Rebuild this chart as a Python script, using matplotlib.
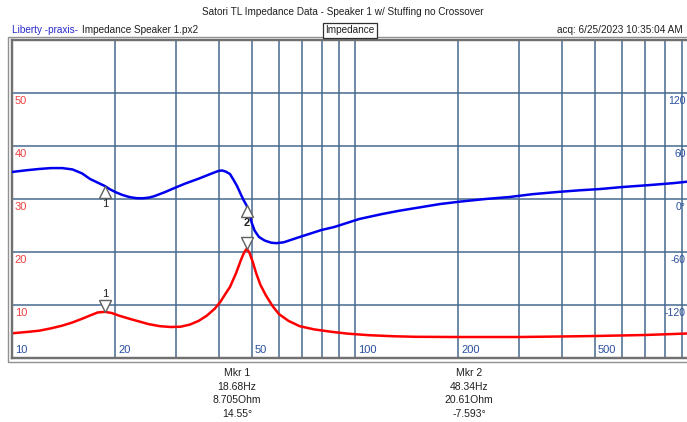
import matplotlib
matplotlib.use("Agg")
import matplotlib.pyplot as plt
import matplotlib.transforms as mtransforms
from matplotlib.patches import Rectangle

plt.rcParams['font.family'] = ['Liberation Sans', 'DejaVu Sans']

# ---- data ----
imp_freq = [10, 11, 12, 13, 14, 15, 16, 17, 17.8, 18.68, 19.5, 20.5, 22, 23.6,
            25, 27, 29, 31, 33, 35, 37, 39, 40.5, 42, 43.2, 45, 46.5, 47.5,
            48.34, 49.2, 50.3, 51.5, 53, 55, 57.5, 60, 64, 69, 76, 85, 95, 110,
            130, 150, 200, 300, 400, 500, 700, 930, 1000]
imp_ohm = [4.66, 4.9, 5.15, 5.6, 6.1, 6.7, 7.4, 8.1, 8.6, 8.705, 8.5, 8.0, 7.4,
           6.85, 6.4, 6.0, 5.85, 5.9, 6.3, 7.0, 8.0, 9.3, 10.6, 12.2, 13.4,
           16.0, 18.5, 19.9, 20.61, 19.9, 18.2, 16.0, 13.8, 11.8, 9.8, 8.3,
           7.0, 6.0, 5.4, 4.96, 4.6, 4.3, 4.1, 4.0, 3.96, 3.96, 4.06, 4.15,
           4.34, 4.62, 4.7]

ph_freq = [10, 11, 12, 13, 14, 15, 16, 16.9, 18.68, 19.3, 20, 21, 22, 23, 24,
           25, 26, 28, 30, 32, 35, 38, 40, 41, 42, 43.2, 44.2, 45.3, 46.5,
           47.3, 48.34, 49.2, 50, 51, 52.5, 54.5, 57, 59, 62, 69, 80, 87, 103,
           120, 135, 160, 177, 202, 240, 283, 330, 388, 450, 518, 600, 724,
           850, 930, 1000]
ph_deg = [30.6, 32.5, 34.0, 35.0, 35.0, 33.5, 29.0, 22.6, 14.55, 11.0, 7.9,
          4.5, 2.2, 1.0, 0.8, 1.5, 3.2, 8.0, 13.0, 17.5, 23.0, 28.5, 31.8,
          32.3, 31.0, 28.3, 22.0, 14.7, 5.0, -1.0, -7.593, -16.0, -27.0, -36.0,
          -43.0, -47.0, -49.5, -50.0, -49.0, -43.0, -35.0, -31.7, -22.6, -17.0,
          -13.2, -8.5, -5.7, -3.0, 0.0, 2.3, 5.5, 7.9, 9.8, 11.3, 13.5, 15.8,
          18.0, 19.6, 20.5]

x_tick_vals = [10, 20, 50, 100, 200, 500]
imp_tick_vals = [10, 20, 30, 40, 50]
ph_tick_vals = [120, 60, 0, -60, -120]
ph_tick_labels = ["120", "60", "0\u00b0", "-60", "-120"]

markers_freq = [18.68, 48.34]
markers_imp = [8.705, 20.61]
markers_ph = [14.55, -7.593]
marker_text = [["Mkr 1", "18.68Hz", "8.705Ohm", "14.55\u00b0"],
               ["Mkr 2", "48.34Hz", "20.61Ohm", "-7.593\u00b0"]]

# ---- figure ----
W, H = 687, 422
fig = plt.figure(figsize=(W / 100, H / 100), dpi=100)
fig.patch.set_facecolor("white")

left_px, right_px, top_px, bot_px = 12, 698, 40, 358
ax = fig.add_axes([left_px / W, 1 - bot_px / H, (right_px - left_px) / W,
                   (bot_px - top_px) / H])
ax.set_xscale("log")
ax.set_xlim(10, 1000)
ax.set_ylim(0, 60)
ax2 = ax.twinx()
ax2.set_ylim(-180, 180)

grid_c = "#46698f"
vlines = list(range(20, 100, 10)) + list(range(100, 1000, 100))
for v in vlines:
    ax.axvline(v, color=grid_c, lw=1.1, zorder=1)
for h in imp_tick_vals:
    ax.axhline(h, color=grid_c, lw=1.1, zorder=1)

for a in (ax, ax2):
    a.set_xticks([])
    a.set_yticks([])
    a.xaxis.set_minor_locator(matplotlib.ticker.NullLocator())
    a.yaxis.set_minor_locator(matplotlib.ticker.NullLocator())
    for s in a.spines.values():
        s.set_color("#707070")
        s.set_linewidth(1.6)

ax.plot(imp_freq, imp_ohm, color="#ff0000", lw=1.8, zorder=3)
ax2.plot(ph_freq, ph_deg, color="#0000ee", lw=1.8, zorder=3)

# tick labels
off = mtransforms.ScaledTranslation(2 / 72, -2 / 72, fig.dpi_scale_trans)
for h in imp_tick_vals:
    ax.text(0, h, str(h), transform=ax.get_yaxis_transform() + off,
            ha="left", va="top", color="#f04040", fontsize=8)
for x in x_tick_vals:
    ax.text(x, 0, str(x), transform=ax.get_xaxis_transform() +
            mtransforms.ScaledTranslation(2 / 72, 2 / 72, fig.dpi_scale_trans),
            ha="left", va="bottom", color="#2a4f9f", fontsize=8)
tr = mtransforms.blended_transform_factory(fig.transFigure, ax2.transData)
for v, lab in zip(ph_tick_vals, ph_tick_labels):
    ax2.text(683 / W, v, lab, transform=tr + off, ha="right", va="top",
             color="#2a4f9f", fontsize=7.5, clip_on=False, zorder=6,
             bbox=dict(boxstyle="square,pad=0", fc="none", ec="none"))

# markers
tri_kw = dict(markersize=8, markerfacecolor="white", markeredgecolor="#606060",
              markeredgewidth=1, linestyle="none", zorder=5)
up_off = mtransforms.ScaledTranslation(0, -4 / 72, fig.dpi_scale_trans)
dn_off = mtransforms.ScaledTranslation(0, 4 / 72, fig.dpi_scale_trans)
for i, (f, z, p) in enumerate(zip(markers_freq, markers_imp, markers_ph)):
    ax2.plot([f], [p], marker="^", transform=ax2.transData + up_off, **tri_kw)
    ax.plot([f], [z], marker="v", transform=ax.transData + dn_off, **tri_kw)
    if i == 0:
        ax2.text(f, p, "1", transform=ax2.transData +
                 mtransforms.ScaledTranslation(0, -9 / 72, fig.dpi_scale_trans),
                 ha="center", va="top", fontsize=8, color="#202020", zorder=6)
        ax.text(f, z, "1", transform=ax.transData +
                mtransforms.ScaledTranslation(0, 9 / 72, fig.dpi_scale_trans),
                ha="center", va="bottom", fontsize=8, color="#202020", zorder=6)
    else:
        ax2.text(f, p, "2", transform=ax2.transData +
                 mtransforms.ScaledTranslation(0, -9 / 72, fig.dpi_scale_trans),
                 ha="center", va="top", fontsize=8, fontweight="bold",
                 color="#202020", zorder=6)

# outer frame
fig.patches.append(Rectangle((8 / W, 1 - 362 / H), (702 - 8) / W, (362 - 37) / H,
                             transform=fig.transFigure, fill=False,
                             edgecolor="#909090", lw=1.0))

# header
hfs = 7.2
fig.text(343 / W, 1 - 12 / H,
         "Satori TL Impedance Data - Speaker 1 w/ Stuffing no Crossover",
         ha="center", va="center", fontsize=hfs, color="#202020")
fig.text(12 / W, 1 - 30 / H, "Liberty -praxis-", ha="left", va="center",
         fontsize=hfs, color="#2a2ad0")
fig.text(82 / W, 1 - 30 / H, "Impedance Speaker 1.px2", ha="left", va="center",
         fontsize=hfs, color="#202020")
fig.text(350 / W, 1 - 30 / H, "Impedance", ha="center", va="center",
         fontsize=hfs, color="#202020",
         bbox=dict(boxstyle="square,pad=0.25", fc="white", ec="#303030", lw=0.9))
fig.text(683 / W, 1 - 30 / H, "acq: 6/25/2023 10:35:04 AM", ha="right",
         va="center", fontsize=hfs, color="#202020")

# marker readouts
for xc, lines in zip([237, 469], marker_text):
    for j, s in enumerate(lines):
        fig.text(xc / W, 1 - (373 + j * 13.7) / H, s, ha="center", va="center",
                 fontsize=7.5, color="#202020",
                 family=['Liberation Sans Narrow', 'Liberation Sans',
                         'DejaVu Sans'])

fig.savefig("out.png", dpi=100)
